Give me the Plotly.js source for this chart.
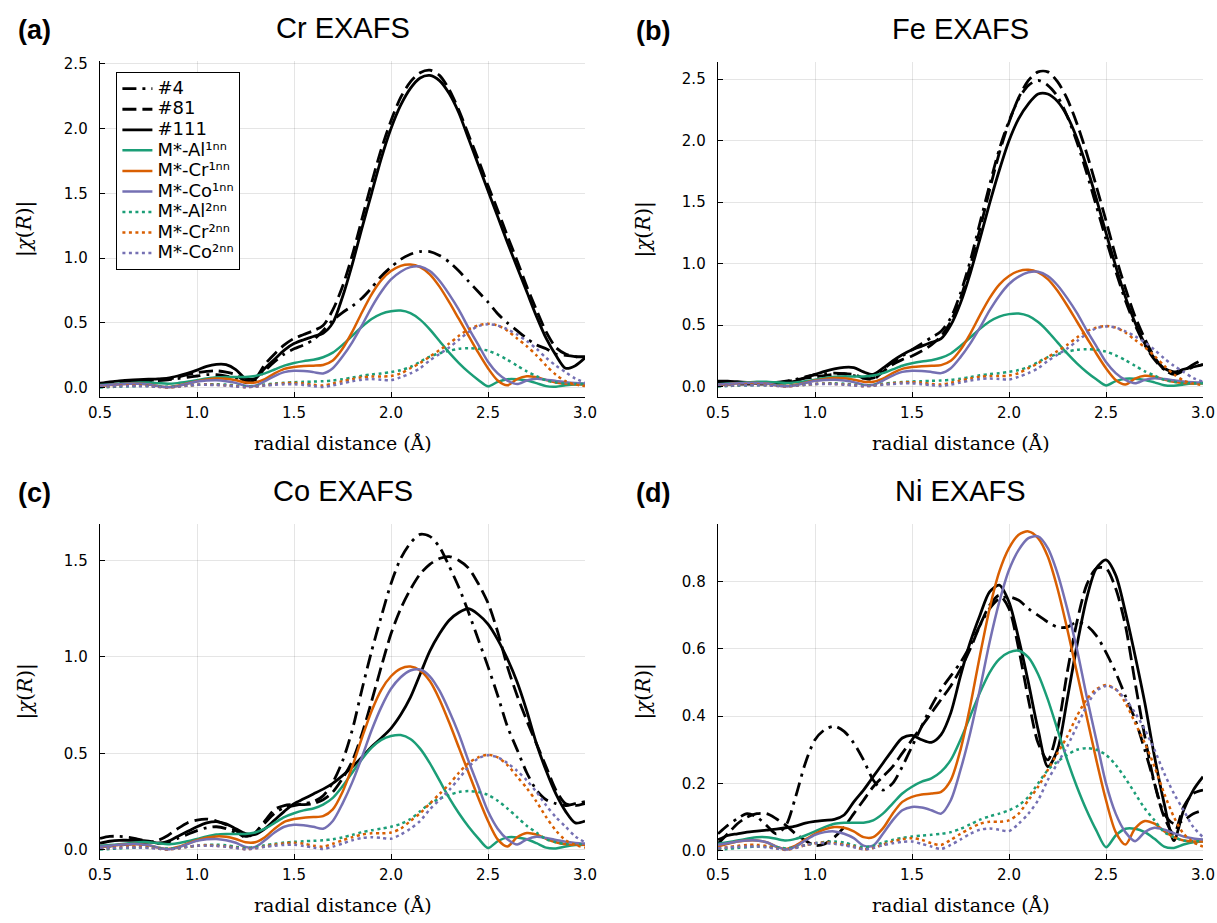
<!DOCTYPE html>
<html>
<head>
<meta charset="utf-8">
<script src="https://cdn.plot.ly/plotly-3.0.1.min.js"></script>
<style>html,body{margin:0;padding:0;background:#fff;}#chart{width:1217px;height:923px;}</style>
</head>
<body>
<div id="chart"></div>
<script>
// radial distance grid (Å)
const R = [0.50,0.55,0.60,0.65,0.70,0.75,0.80,0.85,0.90,0.95,1.00,1.05,1.10,1.15,1.20,1.25,1.30,1.35,1.40,1.45,1.50,1.55,1.60,1.65,1.70,1.75,1.80,1.85,1.90,1.95,2.00,2.05,2.10,2.15,2.20,2.25,2.30,2.35,2.40,2.45,2.50,2.55,2.60,2.65,2.70,2.75,2.80,2.85,2.90,2.95,3.00];

// single-path reference curves (same in every panel)
const al1 = [0.020,0.025,0.030,0.035,0.040,0.040,0.035,0.030,0.035,0.045,0.057,0.070,0.080,0.083,0.083,0.083,0.090,0.110,0.140,0.170,0.190,0.205,0.215,0.235,0.270,0.330,0.400,0.470,0.530,0.570,0.590,0.595,0.575,0.525,0.450,0.360,0.270,0.190,0.120,0.060,0.010,0.045,0.065,0.065,0.055,0.035,0.012,0.008,0.018,0.025,0.027];
const cr1 = [0.012,0.020,0.027,0.030,0.030,0.025,0.012,0.005,0.015,0.033,0.050,0.063,0.070,0.068,0.057,0.040,0.040,0.066,0.110,0.145,0.160,0.167,0.170,0.175,0.210,0.300,0.430,0.580,0.720,0.830,0.900,0.940,0.950,0.930,0.875,0.780,0.660,0.530,0.400,0.270,0.150,0.055,0.018,0.066,0.088,0.080,0.058,0.040,0.030,0.027,0.027];
const co1 = [0.017,0.022,0.027,0.030,0.030,0.025,0.012,0.003,0.012,0.030,0.047,0.055,0.057,0.050,0.037,0.015,0.015,0.050,0.090,0.120,0.130,0.128,0.120,0.110,0.150,0.240,0.350,0.480,0.620,0.740,0.835,0.895,0.930,0.935,0.900,0.825,0.720,0.600,0.460,0.330,0.200,0.110,0.055,0.028,0.055,0.068,0.062,0.052,0.042,0.036,0.033];
const al2 = [0.002,0.005,0.008,0.010,0.012,0.012,0.010,0.007,0.010,0.016,0.022,0.026,0.027,0.024,0.016,0.010,0.014,0.024,0.032,0.038,0.042,0.045,0.047,0.050,0.055,0.065,0.078,0.092,0.102,0.110,0.120,0.135,0.160,0.200,0.240,0.265,0.285,0.300,0.305,0.300,0.285,0.255,0.215,0.170,0.125,0.090,0.055,0.040,0.030,0.028,0.028];
const cr2 = [0.007,0.010,0.014,0.017,0.017,0.014,0.007,0.002,0.008,0.016,0.022,0.024,0.022,0.018,0.012,0.004,0.008,0.018,0.027,0.034,0.037,0.032,0.022,0.017,0.032,0.050,0.066,0.080,0.086,0.086,0.090,0.110,0.150,0.190,0.240,0.290,0.340,0.400,0.450,0.480,0.493,0.480,0.440,0.380,0.320,0.250,0.170,0.100,0.050,0.025,0.012];
const co2 = [0.007,0.009,0.011,0.012,0.012,0.010,0.006,0.003,0.008,0.016,0.022,0.022,0.020,0.016,0.010,0.004,0.008,0.016,0.022,0.026,0.027,0.020,0.012,0.005,0.017,0.033,0.050,0.062,0.066,0.062,0.058,0.080,0.110,0.150,0.210,0.260,0.310,0.370,0.430,0.475,0.490,0.480,0.450,0.410,0.360,0.300,0.230,0.170,0.120,0.070,0.040];

// measured spectra, Cr edge
const cr_4   = [0.020,0.030,0.035,0.040,0.045,0.050,0.055,0.060,0.070,0.080,0.090,0.100,0.100,0.090,0.070,0.040,0.060,0.130,0.200,0.260,0.300,0.330,0.370,0.440,0.520,0.580,0.630,0.690,0.770,0.860,0.930,0.990,1.030,1.050,1.050,1.020,0.970,0.900,0.820,0.740,0.660,0.570,0.500,0.440,0.380,0.330,0.300,0.260,0.250,0.240,0.230];
const cr_81  = [0.020,0.030,0.040,0.045,0.050,0.055,0.060,0.065,0.080,0.100,0.115,0.125,0.130,0.120,0.100,0.050,0.070,0.180,0.260,0.330,0.380,0.410,0.440,0.480,0.600,0.780,1.020,1.300,1.580,1.840,2.060,2.240,2.360,2.430,2.450,2.410,2.300,2.140,1.950,1.760,1.560,1.370,1.170,0.980,0.780,0.600,0.430,0.310,0.260,0.240,0.240];
const cr_111 = [0.034,0.045,0.052,0.058,0.062,0.065,0.068,0.074,0.090,0.110,0.135,0.165,0.180,0.178,0.140,0.070,0.070,0.150,0.220,0.290,0.340,0.370,0.395,0.420,0.500,0.700,0.950,1.230,1.500,1.770,2.000,2.180,2.310,2.390,2.410,2.370,2.270,2.120,1.920,1.720,1.520,1.320,1.120,0.930,0.740,0.550,0.380,0.250,0.150,0.170,0.230];

// Fe edge
const fe_4   = [0.030,0.030,0.030,0.030,0.030,0.030,0.035,0.045,0.060,0.080,0.095,0.105,0.110,0.105,0.090,0.070,0.070,0.140,0.200,0.250,0.300,0.350,0.400,0.450,0.560,0.760,1.020,1.330,1.640,1.930,2.160,2.340,2.450,2.490,2.450,2.360,2.200,1.990,1.740,1.470,1.200,0.940,0.700,0.500,0.340,0.220,0.140,0.110,0.130,0.160,0.180];
const fe_81  = [0.020,0.020,0.020,0.020,0.020,0.022,0.030,0.040,0.055,0.070,0.080,0.090,0.100,0.105,0.100,0.070,0.060,0.120,0.180,0.220,0.250,0.290,0.340,0.410,0.530,0.720,0.980,1.280,1.600,1.900,2.150,2.350,2.490,2.560,2.560,2.480,2.340,2.140,1.900,1.630,1.350,1.060,0.800,0.570,0.390,0.240,0.140,0.100,0.130,0.180,0.220];
const fe_111 = [0.045,0.045,0.040,0.035,0.030,0.028,0.028,0.030,0.045,0.075,0.100,0.125,0.145,0.157,0.155,0.120,0.100,0.150,0.210,0.260,0.300,0.330,0.360,0.390,0.500,0.680,0.920,1.200,1.490,1.760,2.000,2.180,2.300,2.380,2.380,2.320,2.200,2.020,1.790,1.530,1.250,0.980,0.730,0.520,0.350,0.230,0.150,0.120,0.140,0.160,0.180];

// Co edge
const co_4   = [0.060,0.070,0.070,0.065,0.055,0.045,0.035,0.040,0.060,0.080,0.100,0.115,0.120,0.110,0.090,0.070,0.090,0.140,0.190,0.220,0.230,0.240,0.250,0.280,0.350,0.460,0.620,0.830,1.030,1.210,1.380,1.510,1.590,1.635,1.625,1.570,1.470,1.360,1.230,1.090,0.950,0.800,0.640,0.520,0.400,0.310,0.260,0.240,0.230,0.240,0.250];
const co_81  = [0.020,0.020,0.025,0.030,0.035,0.040,0.050,0.075,0.110,0.140,0.155,0.160,0.150,0.130,0.100,0.065,0.090,0.150,0.210,0.230,0.235,0.235,0.240,0.260,0.300,0.370,0.460,0.600,0.770,0.950,1.120,1.250,1.350,1.430,1.480,1.510,1.520,1.500,1.460,1.380,1.280,1.130,0.950,0.800,0.670,0.550,0.430,0.310,0.240,0.230,0.240];
const co_111 = [0.035,0.045,0.050,0.050,0.050,0.045,0.035,0.045,0.070,0.095,0.120,0.140,0.147,0.135,0.110,0.085,0.080,0.110,0.155,0.200,0.240,0.265,0.290,0.315,0.345,0.385,0.430,0.480,0.535,0.580,0.630,0.700,0.790,0.910,1.030,1.120,1.190,1.230,1.250,1.220,1.170,1.090,0.990,0.870,0.720,0.550,0.410,0.290,0.200,0.140,0.150];

// Ni edge
const ni_4   = [0.050,0.075,0.095,0.110,0.100,0.075,0.050,0.075,0.160,0.260,0.330,0.360,0.370,0.355,0.320,0.270,0.210,0.180,0.200,0.250,0.310,0.370,0.430,0.480,0.520,0.560,0.610,0.670,0.720,0.750,0.755,0.745,0.720,0.700,0.680,0.665,0.665,0.680,0.670,0.640,0.590,0.530,0.460,0.390,0.300,0.200,0.110,0.080,0.090,0.110,0.120];
const ni_81  = [0.020,0.050,0.080,0.100,0.110,0.110,0.095,0.075,0.050,0.030,0.015,0.020,0.040,0.070,0.110,0.150,0.190,0.220,0.250,0.290,0.330,0.370,0.410,0.450,0.490,0.540,0.600,0.670,0.730,0.760,0.720,0.600,0.450,0.320,0.270,0.360,0.530,0.680,0.790,0.840,0.840,0.780,0.670,0.500,0.340,0.200,0.100,0.050,0.130,0.170,0.180];
const ni_111 = [0.032,0.045,0.050,0.055,0.058,0.061,0.064,0.068,0.073,0.082,0.087,0.090,0.093,0.106,0.145,0.180,0.220,0.260,0.300,0.335,0.343,0.330,0.322,0.345,0.410,0.520,0.620,0.700,0.770,0.790,0.740,0.630,0.500,0.360,0.250,0.300,0.450,0.610,0.750,0.840,0.865,0.820,0.710,0.580,0.440,0.280,0.140,0.030,0.120,0.180,0.220];

const sampleNames = ['#4', '#81', '#111'];
const modelNames = ['M*-Al¹ⁿⁿ','M*-Cr¹ⁿⁿ','M*-Co¹ⁿⁿ','M*-Al²ⁿⁿ','M*-Cr²ⁿⁿ','M*-Co²ⁿⁿ'];
const panelTitles = ['Cr EXAFS', 'Fe EXAFS', 'Co EXAFS', 'Ni EXAFS'];
const panelLabels = ['(a)', '(b)', '(c)', '(d)'];
const xTicks = [0.5, 1.0, 1.5, 2.0, 2.5, 3.0];
const yTicksAB = [0.0, 0.5, 1.0, 1.5, 2.0, 2.5];
const yTicksC = [0.0, 0.5, 1.0, 1.5];
const yTicksD = [0.0, 0.2, 0.4, 0.6, 0.8];

const samples = [[cr_4, cr_81, cr_111],[fe_4, fe_81, fe_111],[co_4, co_81, co_111],[ni_4, ni_81, ni_111]];
const models = [al1, cr1, co1, al2, cr2, co2];

const W = 1217, H = 923;
// plot-area pixel boxes [left, right, top, bottom]
const boxes = [[100,585,61,397],[718,1203,62,397],[100,585,524,859],[718,1203,524,859]];
const yRanges = [[-0.072,2.521],[-0.084,2.64],[-0.047,1.689],[-0.025,0.972]];
const yTickSets = [yTicksAB, yTicksAB, yTicksC, yTicksD];

const blackDash = ['14px,6px,3px,6px', '14px,6px', 'solid'];
const modelColors = ['#1b9e77','#d95f02','#7570b3','#1b9e77','#d95f02','#7570b3'];
const modelDash = ['solid','solid','solid','3px,3.5px','3px,3.5px','3px,3.5px'];

const big = s => '<span style="font-size:18px">' + s + '</span>';

const traces = [];
for (let p = 0; p < 4; p++) {
  const sfx = p === 0 ? '' : String(p + 1);
  for (let k = 0; k < 3; k++) {
    traces.push({x: R, y: samples[p][k], xaxis: 'x' + sfx, yaxis: 'y' + sfx, type: 'scatter', mode: 'lines',
      name: big(sampleNames[k]), legendgroup: 's' + k, showlegend: p === 0,
      line: {color: '#000', width: 2.8, dash: blackDash[k], shape: 'spline', smoothing: 0.8}});
  }
  for (let k = 0; k < 6; k++) {
    traces.push({x: R, y: models[k], xaxis: 'x' + sfx, yaxis: 'y' + sfx, type: 'scatter', mode: 'lines',
      name: big(modelNames[k]), legendgroup: 'm' + k, showlegend: p === 0,
      line: {color: modelColors[k], width: 2.5, dash: modelDash[k], shape: 'spline', smoothing: 0.8}});
  }
}

const tickFont = {family: 'DejaVu Sans, sans-serif', size: 15, color: '#000'};
const layout = {
  width: W, height: H, margin: {l: 0, r: 0, t: 0, b: 0},
  paper_bgcolor: '#fff', plot_bgcolor: '#fff',
  showlegend: true,
  legend: {x: 116 / W, y: 1 - 72 / H, xanchor: 'left', yanchor: 'top', bgcolor: '#fff', bordercolor: '#000', borderwidth: 1.4,
    font: {family: 'DejaVu Sans, sans-serif', size: 13.5, color: '#000'}, tracegroupgap: 0, itemwidth: 30},
  annotations: []
};

for (let p = 0; p < 4; p++) {
  const sfx = p === 0 ? '' : String(p + 1);
  const b = boxes[p];
  layout['xaxis' + sfx] = {
    domain: [b[0] / W, b[1] / W], anchor: 'y' + sfx, range: [0.5, 3.0],
    tickvals: xTicks, ticktext: xTicks.map(v => v.toFixed(1)),
    ticks: 'inside', ticklen: 5, tickwidth: 1, tickcolor: '#000',
    showline: true, linecolor: '#000', linewidth: 1.3, mirror: false,
    showgrid: true, gridcolor: 'rgba(0,0,0,0.1)', gridwidth: 1, zeroline: false,
    tickfont: tickFont, ticklabelstandoff: 2
  };
  layout['yaxis' + sfx] = {
    domain: [1 - b[3] / H, 1 - b[2] / H], anchor: 'x' + sfx, range: yRanges[p],
    tickvals: yTickSets[p], ticktext: yTickSets[p].map(v => v.toFixed(1)),
    ticks: 'inside', ticklen: 5, tickwidth: 1, tickcolor: '#000',
    showline: true, linecolor: '#000', linewidth: 1.3, mirror: false,
    showgrid: true, gridcolor: 'rgba(0,0,0,0.1)', gridwidth: 1, zeroline: false,
    tickfont: tickFont, ticklabelstandoff: 8
  };
  const cx = (b[0] + b[1]) / 2;
  layout.annotations.push({xref: 'paper', yref: 'paper', x: cx / W, y: 1 - (b[2] - 33) / H, xanchor: 'center', yanchor: 'middle',
    text: panelTitles[p], showarrow: false, font: {family: 'Liberation Sans, Arial, sans-serif', size: 29, color: '#000'}});
  layout.annotations.push({xref: 'paper', yref: 'paper', x: (b[0] - 84) / W, y: 1 - (b[2] - 31) / H, xanchor: 'left', yanchor: 'middle',
    text: '<b>' + panelLabels[p] + '</b>', showarrow: false, font: {family: 'Liberation Sans, Arial, sans-serif', size: 27, color: '#000'}});
  layout.annotations.push({xref: 'paper', yref: 'paper', x: cx / W, y: 1 - (b[3] + 46) / H, xanchor: 'center', yanchor: 'middle',
    text: 'radial distance (Å)', showarrow: false, font: {family: 'DejaVu Serif, serif', size: 19, color: '#000'}});
  layout.annotations.push({xref: 'paper', yref: 'paper', x: (b[0] - 75) / W, y: 1 - ((b[2] + b[3]) / 2) / H, xanchor: 'center', yanchor: 'middle',
    textangle: -90, text: '|<i>χ</i>(<i>R</i>)|', showarrow: false, font: {family: 'DejaVu Serif, serif', size: 20, color: '#000'}});
}

Plotly.newPlot('chart', traces, layout, {displayModeBar: false, staticPlot: true});
</script>
</body>
</html>
